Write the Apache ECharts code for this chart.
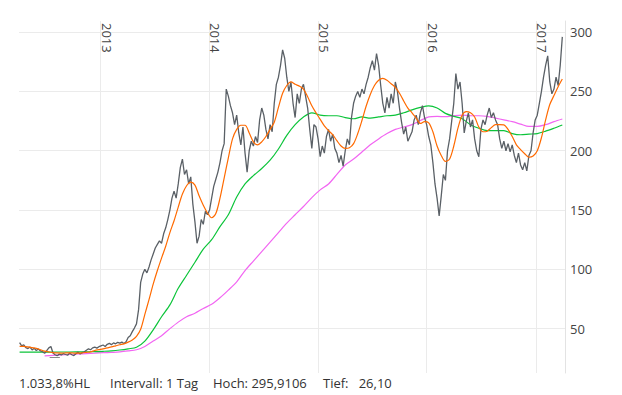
<!DOCTYPE html>
<html><head><meta charset="utf-8">
<script src="https://cdn.jsdelivr.net/npm/echarts@6/dist/echarts.min.js"></script>
<style>html,body{margin:0;padding:0;background:#fff}#c{width:622px;height:395px}</style>
</head><body><div id="c"></div>
<script>
// ---- data ----
const priceStart = '2012-04-06';      // first weekly point
const priceStepDays = 7;
const priceValues = [
  38.2,35.5,36.4,34.0,33.2,34.5,32.0,33.5,31.6,32.8,31.2,
  30.5,29.2,31.5,33.8,35.0,29.5,28.0,27.2,28.5,27.8,
  29.0,28.2,27.6,29.4,28.0,27.3,28.8,30.2,28.6,29.8,
  30.5,31.8,33.0,32.2,33.8,34.5,33.6,34.8,
  35.5,36.2,35.0,36.8,37.6,36.5,38.0,37.2,38.5,37.8,38.6,37.5,39.0,42.5,44.0,47.5,
  50.5,54,66,89,96,100,97,
  102,108,113,118,121,124,122,130,135,142,150,160,166,160,172,186,193,180,184,172,178,155,140,122,128,142,138,149,146,150,
  160,170,176,182,190,200,206,252,246,238,232,222,230,215,205,220,198,182,200,208,204,212,207,226,236,230,218,210,222,216,240,256,262,272,285,278,262,250,258,240,228,248,240,252,256,246,236,218,202,
  222,220,210,195,204,198,212,218,208,214,202,198,190,196,187,200,210,205,228,240,246,250,245,252,248,256,262,270,276,268,282,272,255,240,232,245,236,248,240,258,
  250,236,224,214,220,208,212,216,226,230,222,232,238,228,222,212,205,190,172,160,145,162,180,175,200,210,225,240,265,252,258,240,215,225,232,220,226,210,200,195,218,226,222,230,236,228,232,226,222,210,202,208,200,206,199,205,196,190,198,188,184,190,183,196,200,215,226,230,240,250,262,272,280,258,248,252,262,255,272,296
];
const fastAvgStart = '2012-04-06';    // orange average, every 2 weeks
const fastAvgStepDays = 14;
const fastAvg = [
  35,35,34.6,34,33.4,32.2,31.1,30.4,29.8,29.5,29.4,29.5,29.6,29.4,29.3,29.6,30,30.4,31.6,32.3,
  33,33.8,34.6,35.5,36.4,37.2,38.6,40.5,43.5,49.5,62,74.5,87.5,99,109.5,119.5,131,141,152.5,163.5,
  170.5,173.5,171,162,154,147.5,143.5,147,160,177,194,210,218,221.5,221.5,215,207.5,205,207.5,212,
  218,224,236.5,248.5,255,258,256,254.5,252,245.5,238,232,226.5,221,217,213.5,208.5,204,202,202.5,
  206,214.5,225.5,237.5,247.5,255,259.5,261,259.5,256.5,253.5,248.5,242,236,232,227.5,223,224.5,223.5,216,
  204,196,191,193,204,219,230,233,232,228.5,220,216,216.5,219.5,222,222,221.8,218,212,205,
  201,197.5,194.5,195.5,200,211,226,239,246.5,254,260.5
];
const slowStart = '2012-04-06';       // green and violet averages, every 4 weeks
const slowStepDays = 28;
const midAvg = [
  30.2,30.2,30.2,30.2,30.3,30.3,30.3,30.4,30.5,30.6,30.9,31.3,32,33,34.3,39.5,49,60,70,84,
  95,106,117,125,136,146,161,172,179,185,192,201.5,213,222,228.5,232,230,229.5,229.5,228,
  227,228.5,227.5,228.5,229.5,230,232,234.5,236.5,237.8,236,231.5,229,227,222,219,217,217,217,214.5,
  213.5,214,214.5,216.5,219,221.7
];
const longAvg = [
  null,null,null,27,27.4,27.8,28.2,28.6,29,29.3,29.7,30,30.4,31.2,32.2,35,39.5,44,50,55.5,
  60,63,67,70.5,76,82.5,89.5,99,107,115,123,131,139,146,153,160.5,167,172,180,188,
  193,199,205,210,214.5,218,220,222,225.5,228.5,229,228.7,229.5,230,229.5,229.5,229,227.5,226,224.5,
  222.5,220.5,220.5,222,224.5,226.8
];
const highPoint = ['2017-04-04', 295.9106];
const lowPoint = ['2012-08-02', 26.10];
const footerTexts = ['1.033,8%HL', 'Intervall: 1 Tag', 'Hoch: 295,9106', 'Tief:   26,10'];

// ---- build ----
const DAY = 86400000;
function toSeries(start, step, vals) {
  const t0 = new Date(start + 'T00:00:00Z').getTime();
  return vals.map((v, k) => [t0 + k * step * DAY, v]);
}
function markSeg(p, halfDays) {
  const t = new Date(p[0] + 'T00:00:00Z').getTime();
  return [{coord: [t - halfDays * DAY, p[1]]}, {coord: [t + halfDays * DAY, p[1]]}];
}
const font = 'Open Sans';
const chart = echarts.init(document.getElementById('c'), null, {renderer: 'svg'});
chart.setOption({
  animation: false,
  backgroundColor: '#fff',
  grid: {left: 19, right: 57, top: 21, bottom: 22},
  xAxis: {
    type: 'time', position: 'top',
    min: new Date('2012-04-04T00:00:00Z').getTime(),
    max: new Date('2017-04-09T00:00:00Z').getTime(),
    minInterval: 365 * DAY, splitNumber: 5,
    axisLine: {show: false}, axisTick: {show: false},
    axisLabel: {inside: true, rotate: 90, formatter: '{yyyy}', color: '#444', fontSize: 13, fontFamily: font,
      showMinLabel: false, showMaxLabel: false, margin: 2, verticalAlign: 'bottom'},
    splitLine: {show: true, showMinLine: false, showMaxLine: false, lineStyle: {color: '#ebebeb', width: 1}}
  },
  yAxis: {
    type: 'value', position: 'right', min: 12.6, max: 309.4, splitNumber: 5,
    axisLine: {show: true, lineStyle: {color: '#e3e3e3'}}, axisTick: {show: false},
    axisLabel: {color: '#444', fontSize: 13, fontFamily: font, margin: 5, showMinLabel: false, showMaxLabel: false},
    splitLine: {show: true, showMinLine: false, showMaxLine: false, lineStyle: {color: '#ebebeb', width: 1}}
  },
  series: [
    {type: 'line', name: 'avg200', data: toSeries(slowStart, slowStepDays, longAvg), showSymbol: false, smooth: 0.3,
      lineStyle: {color: '#f266f2', width: 1.2}, z: 2},
    {type: 'line', name: 'avg100', data: toSeries(slowStart, slowStepDays, midAvg), showSymbol: false, smooth: 0.3,
      lineStyle: {color: '#0cc43a', width: 1.2}, z: 3},
    {type: 'line', name: 'price', data: toSeries(priceStart, priceStepDays, priceValues), showSymbol: false,
      lineStyle: {color: '#5a6066', width: 1.3}, z: 4,
      markLine: {silent: true, symbol: 'none', label: {show: false}, lineStyle: {color: '#8a8a8a', width: 1, type: 'solid'},
        data: [markSeg(highPoint, 17), markSeg(lowPoint, 17)]}},
    {type: 'line', name: 'avg38', data: toSeries(fastAvgStart, fastAvgStepDays, fastAvg), showSymbol: false, smooth: 0.3,
      lineStyle: {color: '#ff6a00', width: 1.2}, z: 5}
  ],
  graphic: footerTexts.map((t, k) => ({
    type: 'text', left: [19, 110, 213, 323][k], top: 376,
    style: {text: t, fill: '#333', font: '13px "Open Sans"'}
  }))
});
</script></body></html>
